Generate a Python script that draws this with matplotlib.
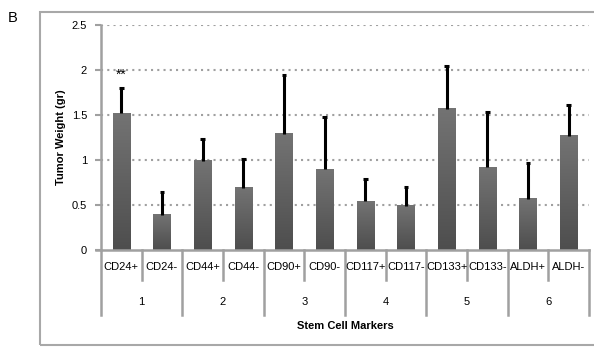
import numpy as np
import matplotlib
matplotlib.use("Agg")
import matplotlib.pyplot as plt
from matplotlib.colors import LinearSegmentedColormap
from matplotlib.patches import Rectangle

plt.rcParams['font.family'] = ['Liberation Sans', 'DejaVu Sans']

markers = ["CD24+", "CD24-", "CD44+", "CD44-", "CD90+", "CD90-",
           "CD117+", "CD117-", "CD133+", "CD133-", "ALDH+", "ALDH-"]
groups = ["1", "2", "3", "4", "5", "6"]
weights = [1.52, 0.39, 0.99, 0.69, 1.29, 0.90, 0.54, 0.49, 1.57, 0.92, 0.57, 1.27]
errors = [0.28, 0.26, 0.24, 0.32, 0.65, 0.58, 0.25, 0.21, 0.47, 0.61, 0.40, 0.34]
yticks = [0, 0.5, 1, 1.5, 2, 2.5]

W, H = 594, 347
fig = plt.figure(figsize=(W / 100, H / 100), dpi=100)
ax = fig.add_axes([101 / W, 1 - 250 / H, 488 / W, 225 / H])

grey = "#a0a0a0"
x = np.arange(len(markers))
bw = 0.43
fs = 8

# dotted horizontal gridlines
for t in yticks[1:]:
    ax.axhline(t, color=grey, lw=1.5, ls=(0, (1, 2)), zorder=1)

# bars with a vertical grey gradient
cmap = LinearSegmentedColormap.from_list("bar", ["#4e4e4e", "#737373"])
grad = np.linspace(0, 1, 64).reshape(-1, 1)
for xi, v in zip(x, weights):
    ax.imshow(grad, cmap=cmap, origin="lower", aspect="auto",
              extent=[xi - bw / 2, xi + bw / 2, 0, v], zorder=2)

# upper error bars only, with a short cap
tops = np.array(weights) + np.array(errors)
ax.vlines(x, weights, tops, color="black", lw=2.2, zorder=3)
ax.hlines(tops, x - 0.06, x + 0.06, color="black", lw=2.2, zorder=3)

ax.set_xlim(-0.5, len(markers) - 0.5)
ax.set_ylim(0, 2.5)

ax.text(0, 1.87, "**", ha="center", va="bottom", fontsize=10)

# axes styling
for s in ["top", "right", "bottom"]:
    ax.spines[s].set_visible(False)
ax.spines["left"].set_color(grey)
ax.spines["left"].set_linewidth(1.8)
ax.set_yticks(yticks)
ax.set_yticklabels(["0", "0.5", "1", "1.5", "2", "2.5"], fontsize=fs)
ax.tick_params(axis="y", length=4, width=1.5, color=grey, pad=6)
ax.set_xticks([])
ax.set_ylabel("Tumor Weight (gr)", fontsize=fs, fontweight="bold", labelpad=4)

# category axis: baseline, separators and two label rows
trans = ax.get_xaxis_transform()
px = 1 / 225  # one pixel in axes-y units
ax.plot([-0.5 - 5 * 12 / 488, len(markers) - 0.5], [0, 0], transform=trans,
        color=grey, lw=1.8, clip_on=False, zorder=4)
for i in range(len(markers) + 1):
    b = i - 0.5
    depth = 65 if i % 2 == 0 else 30
    ax.plot([b, b], [0, -depth * px], transform=trans, color=grey, lw=1.8,
            clip_on=False)
for xi, m in zip(x, markers):
    ax.text(xi, -17 * px, m, transform=trans, ha="center", va="center", fontsize=fs)
for gi, g in enumerate(groups):
    ax.text(2 * gi + 0.5, -52 * px, g, transform=trans, ha="center", va="center",
            fontsize=fs)
ax.text(5.5, -76 * px, "Stem Cell Markers", transform=trans, ha="center",
        va="center", fontsize=fs, fontweight="bold")

# outer panel frame and panel letter
fig.patches.append(Rectangle((40 / W, 1 - 345 / H), 560 / W, 333 / H,
                             transform=fig.transFigure, fill=False,
                             edgecolor="#a8a8a8", lw=1.5))
fig.text(8 / W, 1 - 18 / H, "B", fontsize=10.5, va="center", ha="left")

fig.savefig("out.png", dpi=100)
